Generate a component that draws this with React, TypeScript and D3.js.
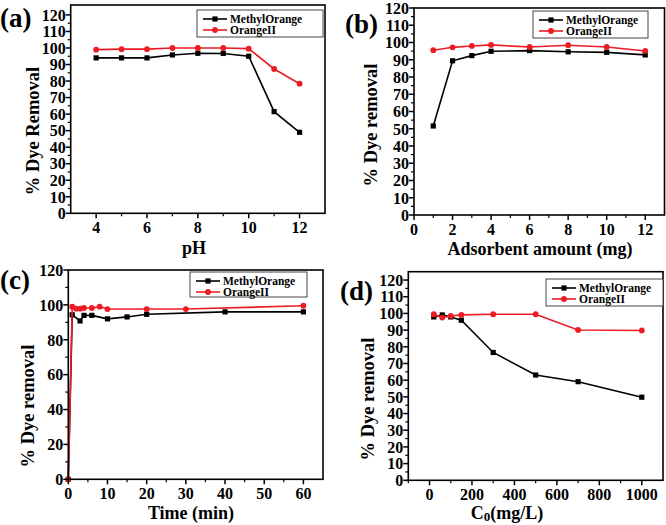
import React from 'react';
import * as d3 from 'd3';

const FONT = "'Liberation Serif','Times New Roman',serif";
const RED = '#ec1c24';
const BLACK = '#000';

// (a) pH
const phX = [4, 5, 6, 7, 8, 9, 10, 11, 12];
const phMO = [94, 94, 94, 95.8, 96.8, 96.7, 95, 61.5, 49];
const phOII = [99, 99.3, 99.3, 100, 100, 100, 99.6, 87.3, 78.4];

// (b) adsorbent amount
const doseX = [1, 2, 3, 4, 6, 8, 10, 12];
const doseMO = [51.6, 89.4, 92.4, 94.9, 95.3, 94.6, 94.3, 92.8];
const doseOII = [95.5, 97.2, 98, 98.6, 97.4, 98.4, 97.4, 95.1];

// (c) time
const timeMOX = [0, 1, 3, 4, 6, 10, 15, 20, 40, 60];
const timeMO = [0, 94.3, 90.8, 94, 94, 92, 93.1, 94.6, 96, 96];
const timeOIIX = [0, 1, 2, 3, 4, 6, 8, 10, 20, 30, 60];
const timeOII = [0, 99, 97.8, 97.8, 98.2, 98.2, 99, 97.6, 97.6, 97.6, 99.5];

// (d) initial concentration
const concX = [20, 60, 100, 150, 300, 500, 700, 1000];
const concMO = [97.9, 99.1, 97.9, 95.9, 76.6, 63.1, 59.1, 49.8];
const concOII = [99.5, 97.5, 98.5, 99.1, 99.5, 99.5, 90.1, 89.8];

const ticks10 = [0, 10, 20, 30, 40, 50, 60, 70, 80, 90, 100, 110, 120];
const minor10 = [5, 15, 25, 35, 45, 55, 65, 75, 85, 95, 105, 115];
const ticks20 = [0, 20, 40, 60, 80, 100, 120];
const minor20 = [10, 30, 50, 70, 90, 110];

const seriesNames = ['MethylOrange', 'OrangeII'];

type Series = { xs: number[]; ys: number[]; color: string; marker: 'square' | 'circle' };

type PanelProps = {
  tag: string;
  tagPos: [number, number];
  box: { left: number; right: number; top: number; bottom: number };
  xDomain: [number, number];
  yDomain: [number, number];
  xTicks: number[];
  xMinor: number[];
  yTicks: number[];
  yMinor: number[];
  xTitle: React.ReactNode;
  xTitlePos: [number, number];
  yTitle: string;
  yTitlePos: [number, number];
  legend: { x: number; y: number; w: number; h: number };
  series: Series[];
};

const Marker = ({ x, y, s }: { x: number; y: number; s: Series }) =>
  s.marker === 'square' ? (
    <rect x={x - 2.6} y={y - 2.6} width={5.2} height={5.2} fill={s.color} />
  ) : (
    <circle cx={x} cy={y} r={2.9} fill={s.color} />
  );

const Panel = (p: PanelProps) => {
  const { left, right, top, bottom } = p.box;
  const x = d3.scaleLinear().domain(p.xDomain).range([left, right]);
  const y = d3.scaleLinear().domain(p.yDomain).range([bottom, top]);
  const line = d3
    .line<[number, number]>()
    .x((d) => x(d[0]))
    .y((d) => y(d[1]));

  return (
    <g>
      <text x={p.tagPos[0]} y={p.tagPos[1]} fontSize={27} fontWeight="bold" fontFamily={FONT}>
        {p.tag}
      </text>

      {p.series.map((s, i) => {
        const pts = s.xs.map((v, j) => [v, s.ys[j]] as [number, number]);
        return (
          <g key={i}>
            <path d={line(pts) || ''} fill="none" stroke={s.color} strokeWidth={1.6} />
            {pts.map((d, j) => (
              <Marker key={j} x={x(d[0])} y={y(d[1])} s={s} />
            ))}
          </g>
        );
      })}

      <rect x={left} y={top} width={right - left} height={bottom - top} fill="none" stroke="#000" strokeWidth={1.6} />

      {p.yTicks.map((t) => (
        <g key={'y' + t}>
          <line x1={left - 5} x2={left} y1={y(t)} y2={y(t)} stroke="#000" strokeWidth={1.5} />
          <text x={left - 5} y={y(t)} dy="0.36em" textAnchor="end" fontSize={16} fontWeight="bold" fontFamily={FONT}>
            {t}
          </text>
        </g>
      ))}
      {p.yMinor.map((t) => (
        <line key={'ym' + t} x1={left - 3} x2={left} y1={y(t)} y2={y(t)} stroke="#000" strokeWidth={1.2} />
      ))}
      {p.xTicks.map((t) => (
        <g key={'x' + t}>
          <line x1={x(t)} x2={x(t)} y1={bottom} y2={bottom + 5} stroke="#000" strokeWidth={1.5} />
          <text x={x(t)} y={bottom + 20} textAnchor="middle" fontSize={16} fontWeight="bold" fontFamily={FONT}>
            {t}
          </text>
        </g>
      ))}
      {p.xMinor.map((t) => (
        <line key={'xm' + t} x1={x(t)} x2={x(t)} y1={bottom} y2={bottom + 3} stroke="#000" strokeWidth={1.2} />
      ))}

      <text x={p.xTitlePos[0]} y={p.xTitlePos[1]} textAnchor="middle" fontSize={18} fontWeight="bold" fontFamily={FONT}>
        {p.xTitle}
      </text>
      <text
        transform={`translate(${p.yTitlePos[0]},${p.yTitlePos[1]}) rotate(-90)`}
        textAnchor="middle"
        dy="0.35em"
        fontSize={18.5}
        fontWeight="bold"
        fontFamily={FONT}
      >
        {p.yTitle}
      </text>

      <g>
        <rect x={p.legend.x} y={p.legend.y} width={p.legend.w} height={p.legend.h} fill="#fff" stroke="#444" strokeWidth={1} />
        {p.series.map((s, i) => {
          const ly = p.legend.y + 9 + i * 11;
          const lx = p.legend.x + 6;
          return (
            <g key={i}>
              <line x1={lx} x2={lx + 24} y1={ly} y2={ly} stroke={s.color} strokeWidth={1.6} />
              <Marker x={lx + 12} y={ly} s={s} />
              <text x={lx + 27} y={ly} dy="0.35em" fontSize={11.5} fontWeight="bold" fontFamily={FONT}>
                {seriesNames[i]}
              </text>
            </g>
          );
        })}
      </g>
    </g>
  );
};

const mk = (xs: number[], mo: number[], xs2: number[], oii: number[]): Series[] => [
  { xs, ys: mo, color: BLACK, marker: 'square' },
  { xs: xs2, ys: oii, color: RED, marker: 'circle' },
];

export default function App() {
  return (
    <svg width={666} height={525} style={{ position: 'absolute', left: 0, top: 0, background: '#fff' }}>
      <Panel
        tag="(a)"
        tagPos={[0, 27]}
        box={{ left: 70.7, right: 325, top: 5, bottom: 213.3 }}
        xDomain={[3, 13]}
        yDomain={[0, 126]}
        xTicks={[4, 6, 8, 10, 12]}
        xMinor={[5, 7, 9, 11]}
        yTicks={ticks10}
        yMinor={minor10}
        xTitle="pH"
        xTitlePos={[194, 254]}
        yTitle="% Dye Removal"
        yTitlePos={[33, 131]}
        legend={{ x: 197, y: 10, w: 126, h: 27 }}
        series={mk(phX, phMO, phX, phOII)}
      />
      <Panel
        tag="(b)"
        tagPos={[345, 33]}
        box={{ left: 414, right: 664.5, top: 8, bottom: 215 }}
        xDomain={[0, 13]}
        yDomain={[0, 120]}
        xTicks={[0, 2, 4, 6, 8, 10, 12]}
        xMinor={[1, 3, 5, 7, 9, 11]}
        yTicks={ticks10}
        yMinor={minor10}
        xTitle="Adsorbent amount (mg)"
        xTitlePos={[540, 255]}
        yTitle="% Dye removal"
        yTitlePos={[371, 125]}
        legend={{ x: 533, y: 11, w: 115, h: 27 }}
        series={mk(doseX, doseMO, doseX, doseOII)}
      />
      <Panel
        tag="(c)"
        tagPos={[0, 289]}
        box={{ left: 68.3, right: 323, top: 270, bottom: 479.3 }}
        xDomain={[0, 65]}
        yDomain={[0, 120]}
        xTicks={[0, 10, 20, 30, 40, 50, 60]}
        xMinor={[5, 15, 25, 35, 45, 55]}
        yTicks={ticks20}
        yMinor={minor20}
        xTitle="Time (min)"
        xTitlePos={[191, 518.5]}
        yTitle="% Dye removal"
        yTitlePos={[28, 406]}
        legend={{ x: 190, y: 272, w: 117, h: 25 }}
        series={mk(timeMOX, timeMO, timeOIIX, timeOII)}
      />
      <Panel
        tag="(d)"
        tagPos={[340, 300]}
        box={{ left: 408.3, right: 663, top: 271.7, bottom: 480.3 }}
        xDomain={[-100, 1100]}
        yDomain={[0, 125]}
        xTicks={[0, 200, 400, 600, 800, 1000]}
        xMinor={[-100, 100, 300, 500, 700, 900]}
        yTicks={ticks10}
        yMinor={minor10}
        xTitle={
          <>
            C<tspan fontSize={13} dy={2.5}>0</tspan>
            <tspan dy={-2.5}>(mg/L)</tspan>
          </>
        }
        xTitlePos={[507, 518.5]}
        yTitle="% Dye removal"
        yTitlePos={[368, 399]}
        legend={{ x: 546, y: 279, w: 117, h: 27 }}
        series={mk(concX, concMO, concX, concOII)}
      />
    </svg>
  );
}
